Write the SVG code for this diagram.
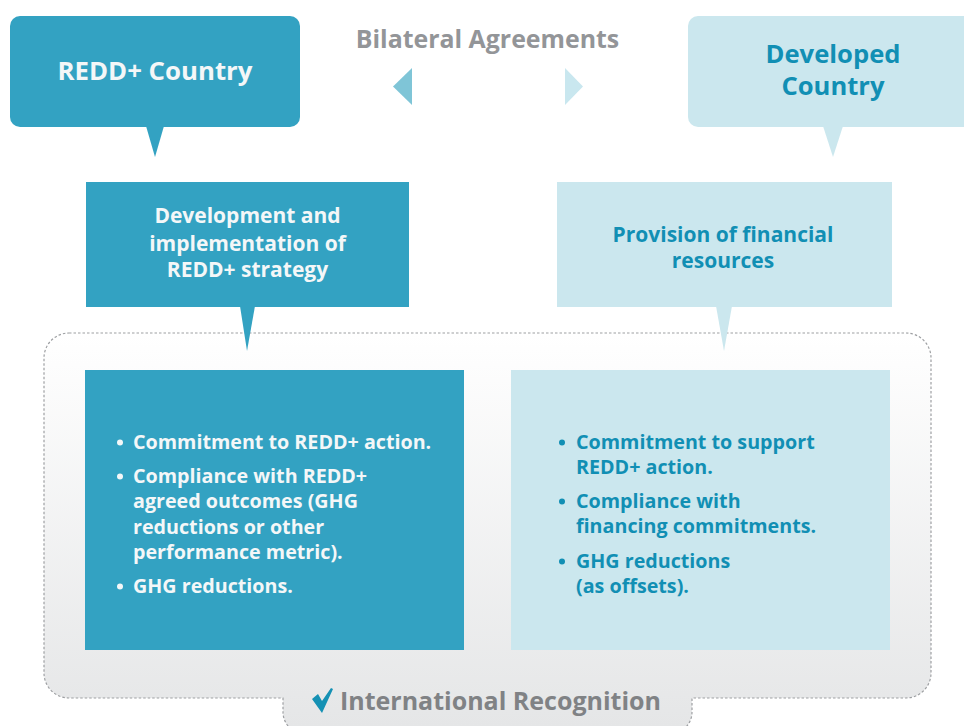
<svg xmlns="http://www.w3.org/2000/svg" width="964" height="726" viewBox="0 0 964 726">
<defs>
<linearGradient id="bg" x1="0" y1="333" x2="0" y2="726" gradientUnits="userSpaceOnUse">
<stop offset="0" stop-color="#ffffff"/>
<stop offset="1" stop-color="#e5e6e7"/>
</linearGradient>
<style>
.t{font-family:"Open Sans","Liberation Sans",sans-serif;font-weight:700}
.dark{fill:#33a2c2}
.light{fill:#cbe7ee}
.wt{fill:#f4f7f8}
.bt{fill:#118fb4}
.gt{fill:#939598}
</style>
</defs>
<rect width="964" height="726" fill="#ffffff"/>
<g id="recognition-frame">
<path d="M69,333 H906 A25,25 0 0 1 931,358 V673 A25,25 0 0 1 906,698 H692 V712 A22,22 0 0 1 670,734 H305 A22,22 0 0 1 283,712 V698 H69 A25,25 0 0 1 44,673 V358 A25,25 0 0 1 69,333 Z" fill="url(#bg)" stroke="#9d9fa2" stroke-width="1.2" stroke-dasharray="2.5 2"/>
<path d="M312,699 L318,694 L322,701 L331,688 L333,689 L322,713 Z" fill="#1591b4"/>
<text class="t" x="340" y="710" font-size="25" fill="#808285">International Recognition</text>
</g>
<g id="redd-country">
<rect class="dark" x="10" y="16" width="290" height="111" rx="10"/>
<text class="t wt" x="155" y="80" font-size="25.8" text-anchor="middle">REDD+ Country</text>
</g>
<g id="developed-country">
<rect class="light" x="688" y="16" width="300" height="111" rx="10"/>
<text class="t bt" x="833" y="63" font-size="25.6" text-anchor="middle">Developed</text>
<text class="t bt" x="833" y="95" font-size="25.6" text-anchor="middle">Country</text>
</g>
<g id="bilateral-agreements">
<text class="t gt" x="487.5" y="48" font-size="24.9" text-anchor="middle">Bilateral Agreements</text>
</g>
<g id="strategy">
<rect class="dark" x="86" y="182" width="323" height="125"/>
<text class="t wt" font-size="21" text-anchor="middle"><tspan x="247.5" y="223">Development and</tspan><tspan x="247.5" y="251">implementation of</tspan><tspan x="247.5" y="277">REDD+ strategy</tspan></text>
</g>
<g id="financial-resources">
<rect class="light" x="557" y="182" width="335" height="125"/>
<text class="t bt" font-size="21" text-anchor="middle"><tspan x="723" y="242">Provision of financial</tspan><tspan x="723" y="268">resources</tspan></text>
</g>
<g id="redd-obligations">
<rect class="dark" x="85" y="370" width="379" height="280"/>
<g class="t wt" font-size="19.7">
<circle cx="120" cy="442.5" r="3"/>
<text x="133" y="449">Commitment to REDD+ action.</text>
<circle cx="120" cy="476.5" r="3"/>
<text x="133" y="483">Compliance with REDD+</text>
<text x="133" y="508">agreed outcomes (GHG</text>
<text x="133" y="534">reductions or other</text>
<text x="133" y="559">performance metric).</text>
<circle cx="120" cy="586.5" r="3"/>
<text x="133" y="593">GHG reductions.</text>
</g>
</g>
<g id="developed-obligations">
<rect class="light" x="511" y="370" width="379" height="280"/>
<g class="t bt" font-size="19.7">
<circle cx="562" cy="442.5" r="3"/>
<text x="576" y="449">Commitment to support</text>
<text x="576" y="474">REDD+ action.</text>
<circle cx="562" cy="501.5" r="3"/>
<text x="576" y="508">Compliance with</text>
<text x="576" y="533">financing commitments.</text>
<circle cx="562" cy="561.5" r="3"/>
<text x="576" y="568">GHG reductions</text>
<text x="576" y="593">(as offsets).</text>
</g>
</g>
<g id="connectors">
<polygon class="dark" points="146,126 164,126 155,157"/>
<polygon class="light" points="823,126 843,126 833,157"/>
<polygon class="dark" points="240,306 255,306 247,351"/>
<polygon class="light" points="716,306 732,306 724,351"/>
<polygon fill="#7fc5d7" points="412,68 412,105 393,86.5"/>
<polygon fill="#c9e7ef" points="565,68 565,105 583,86.5"/>
</g>
</svg>
